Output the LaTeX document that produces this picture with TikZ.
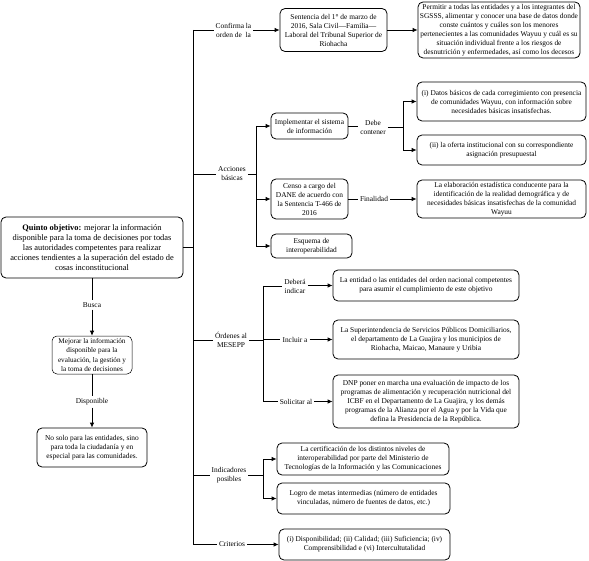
\documentclass[tikz,border=0pt]{standalone}
\usepackage{fontspec}
\setmainfont{Liberation Serif}
\usetikzlibrary{arrows.meta}
\begin{document}
\begin{tikzpicture}[x=1pt,y=-1pt,
  box/.style={draw,rounded corners=5pt,line width=0.8pt,align=center,inner sep=1pt,
    font=\fontsize{7.4}{9}\selectfont},
  lbl/.style={align=center,inner sep=2pt,font=\fontsize{7.4}{9}\selectfont},
  con/.style={line width=0.8pt},
  arr/.style={line width=0.8pt,-{Latex[length=5pt,width=4.5pt]}}]
\useasboundingbox (0,0) rectangle (589,561);
% left column
\node[box,minimum width=182pt,minimum height=61pt,font=\fontsize{8.4}{10}\selectfont] (main) at (92,247.5)
 {\textbf{Quinto objetivo:} mejorar la información\\disponible para la toma de decisiones por todas\\las autoridades competentes para realizar\\acciones tendientes a la superación del estado de\\cosas inconstitucional};
\node[box,line width=0.5pt,minimum width=80pt,minimum height=38pt,font=\fontsize{7.2}{9.3}\selectfont] (mej) at (92,355)
 {Mejorar la información\\disponible para la\\evaluación, la gestión y\\la toma de decisiones};
\node[box,minimum width=110pt,minimum height=39pt] (nosolo) at (92,447.5)
 {No solo para las entidades, sino\\para toda la ciudadanía y en\\especial para las comunidades.};
\node[lbl] (lbusca) at (92,305) {Busca};
\node[lbl] (ldisp) at (92,402) {Disponible};
% right boxes
\node[box,minimum width=107pt,minimum height=43pt] (sent) at (333.5,30)
 {Sentencia del 1° de marzo de\\2016, Sala Civil—Familia—\\Laboral del Tribunal Superior de\\Riohacha};
\node[box,minimum width=162pt,minimum height=56pt] (perm) at (499,30)
 {Permitir a todas las entidades y a los integrantes del\\SGSSS, alimentar y conocer una base de datos donde\\conste cuántos y cuáles son los menores\\pertenecientes a las comunidades Wayuu y cuál es su\\situación individual frente a los riesgos de\\desnutrición y enfermedades, así como los decesos};
\node[box,minimum width=77pt,minimum height=26pt] (impl) at (309.5,126)
 {Implementar el sistema\\de información};
\node[box,minimum width=169pt,minimum height=39pt] (di) at (501.5,101.5)
 {(i) Datos básicos de cada corregimiento con presencia\\de comunidades Wayuu, con información sobre\\necesidades básicas insatisfechas.};
\node[box,minimum width=169pt,minimum height=30pt] (dii) at (501.5,150)
 {(ii) la oferta institucional con su correspondiente\\asignación presupuestal};
\node[box,minimum width=77pt,minimum height=40pt] (censo) at (309.5,199)
 {Censo a cargo del\\DANE de acuerdo con\\la Sentencia T-466 de\\2016};
\node[box,minimum width=169pt,minimum height=38pt] (elab) at (501.5,199)
 {La elaboración estadística conducente para la\\identificación de la realidad demográfica y de\\necesidades básicas insatisfechas de la comunidad\\Wayuu};
\node[box,minimum width=81pt,minimum height=24pt] (esq) at (311.5,246)
 {Esquema de\\interoperabilidad};
\node[box,minimum width=186pt,minimum height=31pt] (ent) at (426,285.5)
 {La entidad o las entidades del orden nacional competentes\\para asumir el cumplimiento de este objetivo};
\node[box,minimum width=186pt,minimum height=39pt] (sup) at (426,339.5)
 {La Superintendencia de Servicios Públicos Domiciliarios,\\el departamento de La Guajira y los municipios de\\Riohacha, Maicao, Manaure y Uribia};
\node[box,minimum width=186pt,minimum height=53pt] (dnp) at (426,401.5)
 {DNP poner en marcha una evaluación de impacto de los\\programas de alimentación y recuperación nutricional del\\ICBF en el Departamento de La Guajira, y los demás\\programas de la Alianza por el Agua y por la Vida que\\defina la Presidencia de la República.};
\node[box,minimum width=172pt,minimum height=32pt] (cert) at (363,459)
 {La certificación de los distintos niveles de\\interoperabilidad por parte del Ministerio de\\Tecnologías de la Información y las Comunicaciones};
\node[box,minimum width=173pt,minimum height=31pt] (logro) at (363.5,498.5)
 {Logro de metas intermedias (número de entidades\\vinculadas, número de fuentes de datos, etc.)};
\node[box,minimum width=171pt,minimum height=31pt] (crit) at (364.5,544.5)
 {(i) Disponibilidad; (ii) Calidad; (iii) Suficiencia; (iv)\\Comprensibilidad e (vi) Intercultutalidad};
% labels
\node[lbl] (lconf) at (233.5,30) {Confirma la\\orden de\ \ la};
\node[lbl] (lacc) at (232,174) {Acciones\\básicas};
\node[lbl] (ldebe) at (373,127) {Debe\\contener};
\node[lbl] (lfin) at (374,199) {Finalidad};
\node[lbl] (lord) at (231,340) {Órdenes al\\MESEPP};
\node[lbl] (ldeb) at (295,286) {Deberá\\indicar};
\node[lbl] (linc) at (295,339.5) {Incluir a};
\node[lbl] (lsol) at (296,401.5) {Solicitar al};
\node[lbl] (lind) at (229,475) {Indicadores\\posibles};
\node[lbl] (lcrit) at (232,544.5) {Criterios};
% trunk coordinates
\coordinate (tTop) at (193,30);
\coordinate (tBot) at (193,544.5);
\coordinate (aTop) at (256,126);
\coordinate (aBot) at (256,246);
\coordinate (dTop) at (403,101.5);
\coordinate (dBot) at (403,150);
\coordinate (oTop) at (263,286);
\coordinate (oBot) at (263,401.5);
\coordinate (iTop) at (263,459);
\coordinate (iBot) at (263,498.5);
% connectors
\draw[con] (tTop) -- (tBot);
\draw[con] (main.east) -- (main.east -| tTop);
\draw[con] (tTop) -- (lconf.west);
\draw[arr] (lconf.east) -- (sent.west);
\draw[arr] (sent.east) -- (perm.west);
% acciones
\draw[con] (lacc.west -| tTop) -- (lacc.west);
\draw[con] (lacc.east) -- (lacc.east -| aTop);
\draw[con] (aTop) -- (aBot);
\draw[arr] (aTop) -- (impl.west);
\draw[arr] (censo.west -| aTop) -- (censo.west);
\draw[arr] (aBot) -- (esq.west);
\draw[con] (impl.east) -- (impl.east -| ldebe.west);
\draw[con] (ldebe.east) -- (ldebe.east -| dTop);
\draw[con] (dTop) -- (dBot);
\draw[arr] (dTop) -- (di.west);
\draw[arr] (dBot) -- (dii.west);
\draw[con] (censo.east) -- (lfin.west);
\draw[arr] (lfin.east) -- (elab.west);
% ordenes
\draw[con] (lord.west -| tTop) -- (lord.west);
\draw[con] (lord.east) -- (lord.east -| oTop);
\draw[con] (oTop) -- (oBot);
\draw[con] (oTop) -- (oTop -| ldeb.west);
\draw[arr] (ldeb.east |- ent.west) -- (ent.west);
\draw[con] (linc.west -| oTop) -- (linc.west);
\draw[arr] (linc.east) -- (sup.west);
\draw[con] (oBot) -- (lsol.west);
\draw[arr] (lsol.east) -- (dnp.west);
% indicadores
\draw[con] (lind.west -| tTop) -- (lind.west);
\draw[con] (lind.east) -- (lind.east -| iTop);
\draw[con] (iTop) -- (iBot);
\draw[arr] (iTop) -- (cert.west);
\draw[arr] (iBot) -- (logro.west);
% criterios
\draw[con] (tBot) -- (lcrit.west);
\draw[arr] (lcrit.east) -- (crit.west);
% left vertical
\draw[con] (main.south) -- (lbusca.north);
\draw[arr] (lbusca.south) -- (mej.north);
\draw[con] (mej.south) -- (ldisp.north);
\draw[arr] (ldisp.south) -- (nosolo.north);
\end{tikzpicture}
\end{document}
